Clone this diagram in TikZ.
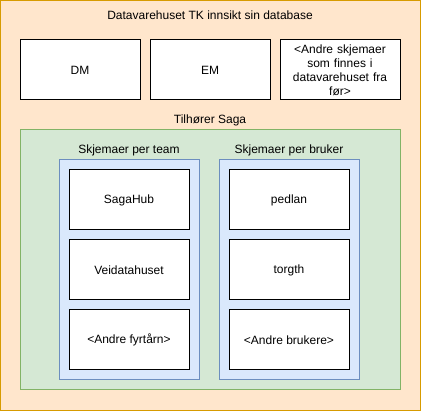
\documentclass[tikz,border=0pt]{standalone}
\usepackage{fontspec}
\setmainfont{Liberation Sans}
\usetikzlibrary{positioning}

\definecolor{orangefill}{HTML}{FFE6CC}
\definecolor{orangeline}{HTML}{D79B00}
\definecolor{greenfill}{HTML}{D5E8D4}
\definecolor{greenline}{HTML}{82B366}
\definecolor{bluefill}{HTML}{DAE8FC}
\definecolor{blueline}{HTML}{6C8EBF}

\tikzset{
  schema/.style={draw=black, fill=white, line width=1pt, minimum width=120pt,
    minimum height=60pt, inner sep=2pt, align=center, font=\fontsize{12}{14}\selectfont},
  heading/.style={font=\fontsize{12}{14}\selectfont, inner sep=0pt}
}

\begin{document}
\begin{tikzpicture}[x=1pt, y=-1pt]
  \useasboundingbox (0,0) rectangle (421,411);

  % outer database
  \draw[fill=orangefill, draw=orangeline, line width=1pt] (0.5,0.5) rectangle (420.5,410.5);
  \node[heading] (dbtitle) at (210,15) {Datavarehuset TK innsikt sin database};

  \node[schema] (dm) at (80,70) {DM};
  \node[schema] (em) at (210,70) {EM};
  \node[schema, text width=112pt] (andreskjema) at (340,70) {<Andre skjemaer\\som finnes i\\datavarehuset fra\\før>};

  % saga
  \draw[fill=greenfill, draw=greenline, line width=1pt] (20,130) rectangle (400,390);
  \node[heading] (sagatitle) at (210,120) {Tilhører Saga};

  \draw[fill=bluefill, draw=blueline, line width=1pt] (59,160) rectangle (199,380);
  \draw[fill=bluefill, draw=blueline, line width=1pt] (219,160) rectangle (359,380);
  \node[heading] (teamtitle) at (129,150) {Skjemaer per team};
  \node[heading] (brukertitle) at (289,150) {Skjemaer per bruker};

  \node[schema] (sagahub) at (129,200) {SagaHub};
  \node[schema] (veidata) at (129,270) {Veidatahuset};
  \node[schema] (fyrtarn) at (129,340) {<Andre fyrtårn>};

  \node[schema] (pedlan) at (289,200) {pedlan};
  \node[schema] (torgth) at (289,270) {torgth};
  \node[schema] (brukere) at (289,340) {<Andre brukere>};
\end{tikzpicture}
\end{document}
